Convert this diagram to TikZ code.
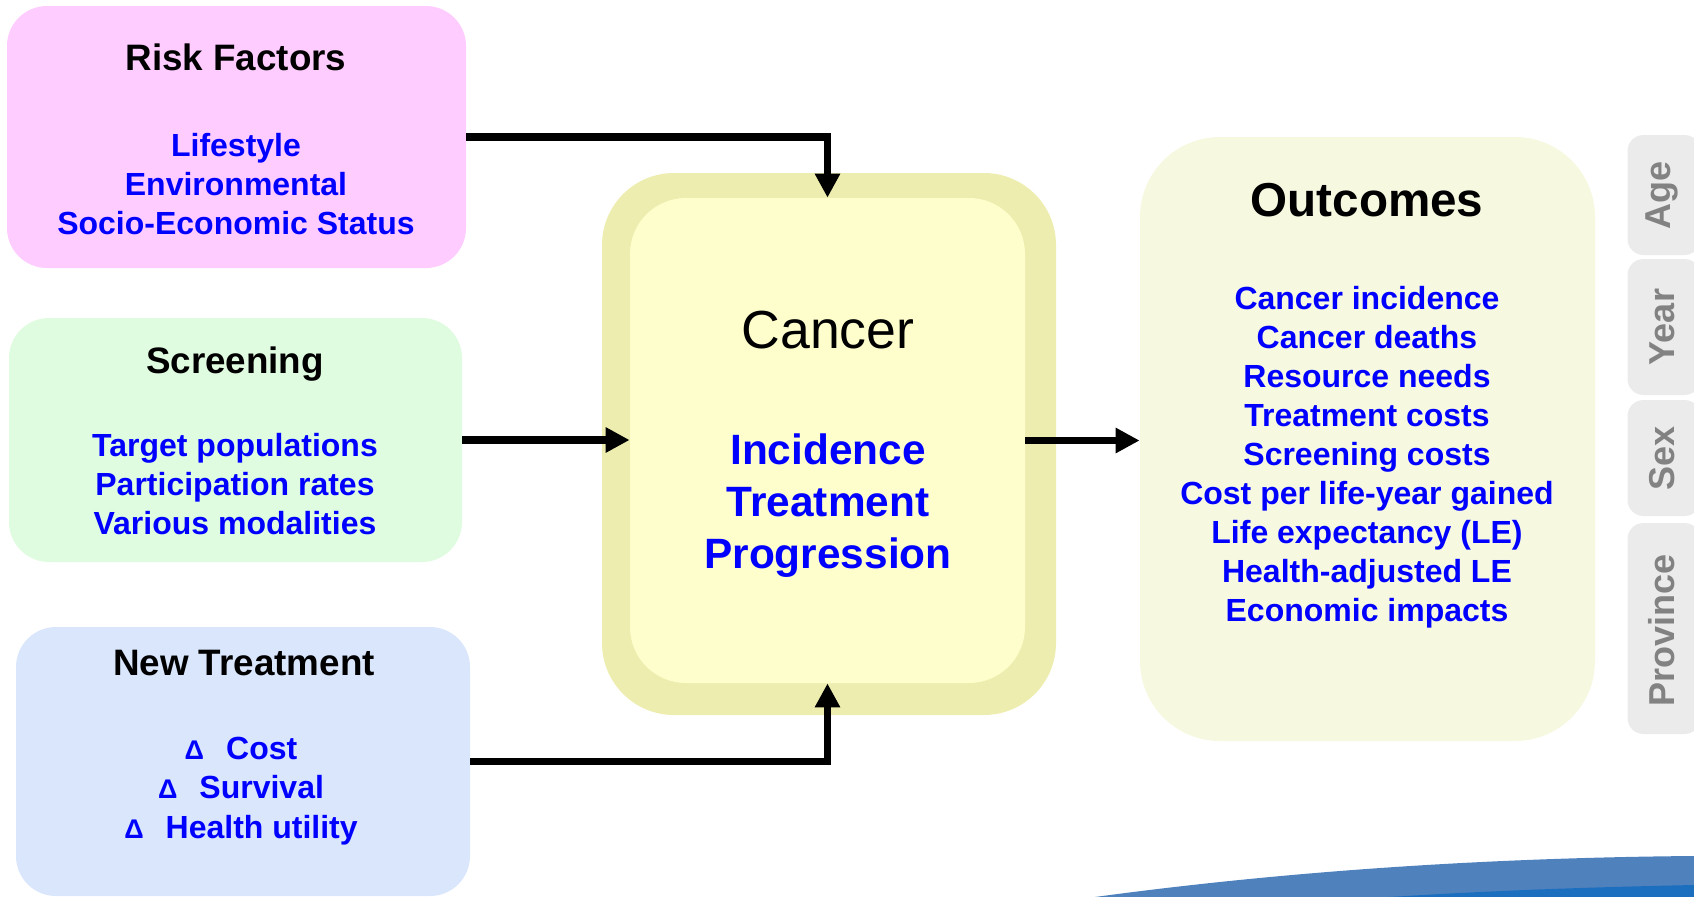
\documentclass[tikz,border=0pt]{standalone}
\usepackage{fontspec}
\setmainfont{Liberation Sans}
\usetikzlibrary{arrows.meta}
\definecolor{riskpink}{HTML}{FFCCFF}
\definecolor{screengreen}{HTML}{E0FCE0}
\definecolor{treatblue}{HTML}{D9E6FC}
\definecolor{canout}{HTML}{EDEDB0}
\definecolor{canin}{HTML}{FEFECC}
\definecolor{outfill}{HTML}{F6F8E0}
\definecolor{tabfill}{HTML}{EBEBEB}
\definecolor{tabtext}{HTML}{828282}
\definecolor{itemblue}{HTML}{0000FF}
\definecolor{swoosh}{HTML}{4F81BD}
\definecolor{swooshdark}{HTML}{1C6FBF}
\tikzset{
  box/.style={rectangle, rounded corners=20pt, inner sep=0pt},
  title/.style={font=\fontsize{18.4}{22}\selectfont\bfseries, text=black, inner sep=0pt},
  items/.style={font=\fontsize{16}{19.7}\selectfont\bfseries, text=itemblue, align=center, inner sep=0pt},
  tab/.style={rectangle, rounded corners=8pt, fill=tabfill, minimum width=36.5pt, inner sep=0pt},
  tabtxt/.style={font=\fontsize{18}{20}\selectfont\bfseries, text=tabtext, rotate=90, inner sep=0pt},
  arr/.style={line width=3.9pt, -{Triangle[length=12pt,width=12pt]}}
}
\newcommand{\dlt}{{\fontsize{13.5}{14}\selectfont Δ}\hspace{11pt}}
\begin{document}
\begin{tikzpicture}[x=0.5pt,y=-0.5pt]
\useasboundingbox (0,0) rectangle (1694,896);
% swoosh
\fill[swoosh] (1095,897) .. controls (1250,876) and (1450,858) .. (1694,856) -- (1694,897) -- cycle;
\fill[swooshdark] (1390,897) .. controls (1500,890) and (1600,887) .. (1694,885) -- (1694,897) -- cycle;
% boxes
\node[box, fill=riskpink, minimum width=229.5pt, minimum height=131pt] (risk) at (236.5,137) {};
\node[box, fill=screengreen, minimum width=226.5pt, minimum height=122pt] (screen) at (235.5,440) {};
\node[box, fill=treatblue, minimum width=227pt, minimum height=134.5pt] (newt) at (243,761.5) {};
\node[box, rounded corners=36pt, fill=canout, minimum width=227pt, minimum height=271pt] (canouter) at (829,444) {};
\node[box, rounded corners=28pt, fill=canin, minimum width=197.5pt, minimum height=242.5pt] (cancer) at (827.5,440.5) {};
\node[box, rounded corners=40pt, fill=outfill, minimum width=227.5pt, minimum height=302pt] (outc) at (1367.5,439) {};
% tabs
\node[tab, minimum height=60pt] (tage) at (1664,195) {};
\node[tab, minimum height=68pt] (tyear) at (1664,327) {};
\node[tab, minimum height=58pt] (tsex) at (1664,458) {};
\node[tab, minimum height=105.5pt] (tprov) at (1664,628.5) {};
\node[tabtxt] (lage) at (1662,195) {Age};
\node[tabtxt] (lyear) at (1662,327) {Year};
\node[tabtxt] (lsex) at (1662,458) {Sex};
\node[tabtxt] (lprov) at (1662,630) {Province};
% texts
\node[title] (rtitle) at (236,57) {Risk Factors};
\node[items] (ritems) at (236,184) {Lifestyle\\Environmental\\Socio-Economic Status};
\node[title] (stitle) at (235,364) {Screening};
\node[items] (sitems) at (235,484) {Target populations\\Participation rates\\Various modalities};
\node[title] (ntitle) at (244,663) {New Treatment};
\node[items] (nitems) at (241,791) {\dlt Cost\\\dlt Survival\\\dlt Health utility};
\node[inner sep=0pt, font=\fontsize{26.8}{30}\selectfont] (ctitle) at (828,330) {Cancer};
\node[items, font=\fontsize{21.2}{26}\selectfont\bfseries] (citems) at (828,506) {Incidence\\Treatment\\Progression};
\node[title, font=\fontsize{23.8}{28}\selectfont\bfseries] (otitle) at (1367,200) {Outcomes};
\node[items, font=\fontsize{16}{19.5}\selectfont\bfseries] (oitems) at (1367,457) {Cancer incidence\\Cancer deaths\\Resource needs\\Treatment costs\\Screening costs\\Cost per life-year gained\\Life expectancy (LE)\\Health-adjusted LE\\Economic impacts};
% connectors
\draw[arr] (risk.east) -| (cancer.north);
\draw[arr] (screen.east) -- (screen.east -| cancer.west);
\draw[arr] (newt.east) -| (cancer.south);
\draw[arr] (cancer.east) -- (cancer.east -| outc.west);
\end{tikzpicture}
\end{document}
